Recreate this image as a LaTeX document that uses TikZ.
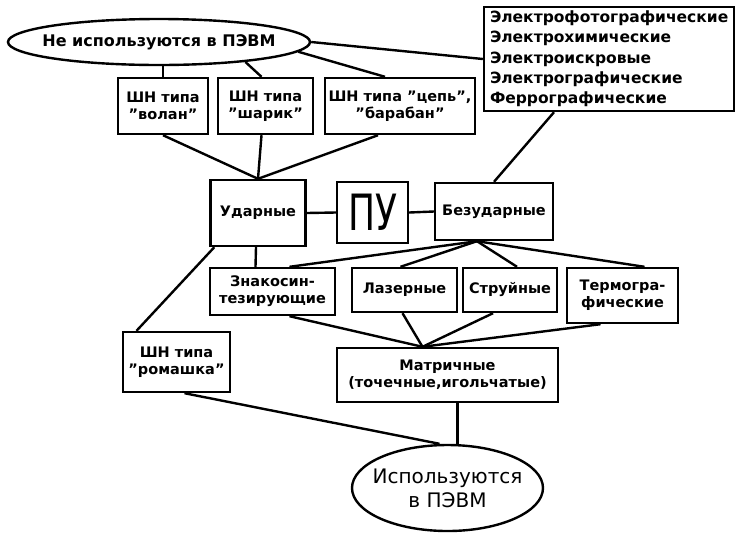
\documentclass[tikz,border=0pt]{standalone}
\usepackage{fontspec}
\setmainfont{DejaVu Sans}
\usetikzlibrary{shapes.geometric}
\begin{document}
\begin{tikzpicture}[x=1pt,y=-1pt,
  every node/.style={font=\fontsize{14.5}{17}\selectfont\bfseries},
  box/.style={draw,line width=2.4pt,rectangle,inner sep=2pt,align=center},
  oval/.style={draw,line width=2.4pt,ellipse,inner xsep=-60pt,inner ysep=-20pt,align=center},
  link/.style={line width=2.4pt}]
\useasboundingbox (0,0) rectangle (736,542);
% nodes
\node[oval,minimum width=302pt,minimum height=46pt,font=\fontsize{16}{18}\selectfont\bfseries] (ne) at (159,42) {Не используются в ПЭВМ};
\node[box,minimum width=250pt,minimum height=104pt,align=left,text width=238pt,inner sep=0pt,
      font=\fontsize{15.5}{20.3}\selectfont\bfseries] (el) at (609,59)
  {Электрофотографические\\Электрохимические\\Электроискровые\\Электрографические\\Феррографические};
\node[box,minimum width=90pt,minimum height=56pt] (volan) at (163,106) {ШН типа\\"волан"};
\node[box,minimum width=95pt,minimum height=56pt] (sharik) at (265.5,106) {ШН типа\\"шарик"};
\node[box,minimum width=150pt,minimum height=56pt] (cep) at (400,106) {ШН типа "цепь",\\"барабан"};
\node[box,minimum width=95pt,minimum height=66pt] (udar) at (258,213) {Ударные};
\node[box,minimum width=71pt,minimum height=61pt,font=\fontsize{50}{50}\selectfont] (pu) at (372.5,212.5) {\scalebox{0.72}[1]{ПУ}};
\node[box,minimum width=118pt,minimum height=57pt] (bezud) at (494,211.5) {Безударные};
\node[box,minimum width=125pt,minimum height=47pt] (znak) at (272.5,291.5) {Знакосин-\\тезирующие};
\node[box,minimum width=105pt,minimum height=44pt] (laz) at (404.5,290) {Лазерные};
\node[box,minimum width=94pt,minimum height=44pt] (str) at (510,290) {Струйные};
\node[box,minimum width=111pt,minimum height=55pt] (term) at (622.5,295.5) {Термогра-\\фические};
\node[box,minimum width=107pt,minimum height=60pt] (romash) at (176.5,362) {ШН типа\\"ромашка"};
\node[box,minimum width=221pt,minimum height=54pt] (matr) at (447.5,375) {Матричные\\(точечные,игольчатые)};
\node[oval,minimum width=191pt,minimum height=86pt,font=\fontsize{20}{24}\selectfont] (isp) at (447.5,488) {Используются\\в ПЭВМ};
% connectors
\draw[link] (ne.east) -- (el.west);
\draw[link] (volan.north) -- (volan.north |- ne.south);
\draw[link] (ne.-13) -- ([xshift=-4pt]sharik.north);
\draw[link] (ne.-4) -- ([xshift=-15pt]cep.north);
\draw[link] (volan.south) -- (udar.north);
\draw[link] ([xshift=-4pt]sharik.south) -- (udar.north);
\draw[link] ([xshift=-22pt]cep.south) -- (udar.north);
\draw[link] (udar.east) -- (pu.west);
\draw[link] (pu.east) -- (bezud.west);
\draw[link] ([xshift=-55pt]el.south) -- (bezud.north);
\draw[link] ([xshift=-17pt]bezud.south) -- ([xshift=17pt]znak.north);
\draw[link] ([xshift=-17pt]bezud.south) -- ([xshift=-4pt]laz.north);
\draw[link] ([xshift=-17pt]bezud.south) -- ([xshift=7pt]str.north);
\draw[link] ([xshift=-17pt]bezud.south) -- ([xshift=22pt]term.north);
\draw[link] ([xshift=-2pt]udar.south) -- ([xshift=-17pt]znak.north);
\draw[link] ([xshift=5pt]udar.south west) -- ([xshift=-40pt]romash.north);
\draw[link] ([xshift=17pt]znak.south) -- ([xshift=-25pt]matr.north);
\draw[link] ([xshift=-2pt]laz.south) -- ([xshift=-25pt]matr.north);
\draw[link] ([xshift=-17pt]str.south) -- ([xshift=-25pt]matr.north);
\draw[link] ([xshift=-22pt]term.south) -- ([xshift=-25pt]matr.north);
\draw[link] ([xshift=8pt]romash.south) -- ([xshift=-8pt]isp.north);
\draw[link] ([xshift=10pt]matr.south) -- ([xshift=10pt]matr.south |- isp.north);
\end{tikzpicture}
\end{document}
